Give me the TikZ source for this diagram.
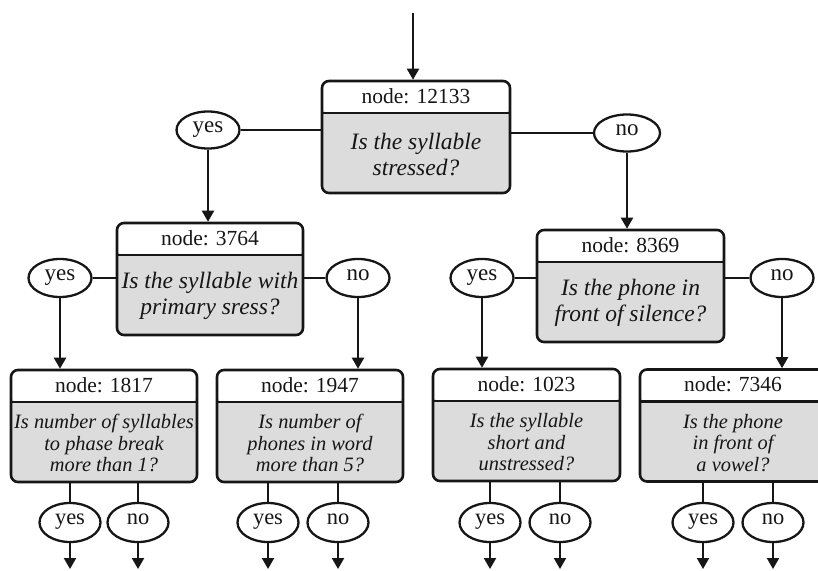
\documentclass[tikz,border=0pt]{standalone}
\usepackage{fontspec}
\setmainfont{Liberation Serif}
\usetikzlibrary{arrows.meta,shapes.geometric}
\definecolor{boxgray}{RGB}{220,220,220}
\definecolor{ink}{RGB}{22,22,22}
\begin{document}
\begin{tikzpicture}[x=1pt,y=1pt,
  qbox/.style={draw=ink, line width=2.6pt, rounded corners=7pt, fill=boxgray,
    inner sep=0pt, minimum height=112pt,
    path picture={
      \fill[white] ([yshift=2pt]path picture bounding box.north west) rectangle ([yshift=-32pt]path picture bounding box.north east);
      \draw[ink, line width=2.5pt] ([yshift=-32pt]path picture bounding box.north west) -- ([yshift=-32pt]path picture bounding box.north east);
    }},
  hdr/.style={font=\fontsize{21.5}{24}\selectfont, text=ink, inner sep=0pt},
  qbig/.style={font=\itshape\fontsize{23.5}{26}\selectfont, align=center, text=ink, inner sep=0pt},
  qsmall/.style={font=\itshape\fontsize{20.4}{21.5}\selectfont, align=center, text=ink, inner sep=0pt},
  ans/.style={ellipse, draw=ink, line width=2.3pt, fill=white, inner sep=0pt,
    minimum width=63pt, minimum height=37pt, font=\fontsize{23}{24}\selectfont,
    text=ink, text height=1ex, text depth=0pt},
  ansl/.style={ans, minimum width=61pt, minimum height=39pt, font=\fontsize{22.5}{24}\selectfont},
  con/.style={draw=ink, line width=2.1pt},
  arr/.style={con, -{Triangle[width=12pt,length=11pt]}},
]
\useasboundingbox (0,0) rectangle (818,-570);
\clip (0,0) rectangle (818,-570);

% boxes
\node[qbox, minimum width=188pt] (b1) at (416,-137) {};
\node[qbox, minimum width=186pt] (b2) at (210,-279) {};
\node[qbox, minimum width=187pt] (b3) at (630.5,-286) {};
\node[qbox, minimum width=186pt] (b4) at (104,-426) {};
\node[qbox, minimum width=186pt] (b5) at (310,-426) {};
\node[qbox, minimum width=187pt] (b6) at (526.5,-425) {};
\node[qbox, minimum width=186pt] (b7) at (733,-425.5) {};

% headers
\node[hdr] (h1) at ([yshift=-16pt]b1.north) {node: 12133};
\node[hdr] (h2) at ([yshift=-16pt]b2.north) {node: 3764};
\node[hdr] (h3) at ([yshift=-16pt]b3.north) {node: 8369};
\node[hdr] (h4) at ([yshift=-16pt]b4.north) {node: 1817};
\node[hdr] (h5) at ([yshift=-16pt]b5.north) {node: 1947};
\node[hdr] (h6) at ([yshift=-16pt]b6.north) {node: 1023};
\node[hdr] (h7) at ([yshift=-16pt]b7.north) {node: 7346};

% questions
\node[qbig] (q1) at ([yshift=40pt]b1.south) {Is the syllable\\stressed?};
\node[qbig] (q2) at ([yshift=40pt]b2.south) {Is the syllable with\\primary sress?};
\node[qbig] (q3) at ([yshift=40pt]b3.south) {Is the phone in\\front of silence?};
\node[qsmall] (q4) at ([yshift=40pt]b4.south) {Is number of syllables\\to phase break\\more than 1?};
\node[qsmall] (q5) at ([yshift=40pt]b5.south) {Is number of\\phones in word\\more than 5?};
\node[qsmall] (q6) at ([yshift=40pt]b6.south) {Is the syllable\\short and\\unstressed?};
\node[qsmall] (q7) at ([yshift=40pt]b7.south) {Is the phone\\in front of\\a vowel?};

% answer ellipses
\node[ans] (y1) at (208,-130) {yes};
\node[ans, minimum width=66pt] (n1) at (627,-133) {no};
\node[ans, minimum height=38pt] (y2) at (60,-278) {yes};
\node[ans, minimum height=38pt] (n2) at (358,-278) {no};
\node[ans, minimum height=38pt] (y3) at (482,-278) {yes};
\node[ans, minimum height=38pt] (n3) at (782,-278) {no};

\node[ansl] (y4) at (70,-522.5) {yes};
\node[ansl] (n4) at (138,-522.5) {no};
\node[ansl] (y5) at (268,-522.5) {yes};
\node[ansl] (n5) at (338,-522.5) {no};
\node[ansl] (y6) at (490,-522.5) {yes};
\node[ansl] (n6) at (560,-522.5) {no};
\node[ansl] (y7) at (703,-522.5) {yes};
\node[ansl] (n7) at (773,-522.5) {no};

\coordinate (start) at (413,-13);
\coordinate (ebot) at (0,-569);

% connectors
\draw[arr] (start) -- (start |- b1.north);
\draw[con] (y1.east) -- (y1.east -| b1.west);
\draw[con] (n1.west -| b1.east) -- (n1.west);
\draw[arr] (y1.south) -- (y1.south |- b2.north);
\draw[arr] (n1.south) -- (n1.south |- b3.north);

\draw[con] (y2.east) -- (y2.east -| b2.west);
\draw[con] (n2.west -| b2.east) -- (n2.west);
\draw[arr] (y2.south) -- (y2.south |- b4.north);
\draw[arr] (n2.south) -- (n2.south |- b5.north);

\draw[con] (y3.east) -- (y3.east -| b3.west);
\draw[con] (n3.west -| b3.east) -- (n3.west);
\draw[arr] (y3.south) -- (y3.south |- b6.north);
\draw[arr] (n3.south) -- (n3.south |- b7.north);

\foreach \a/\b in {y4/b4,n4/b4,y5/b5,n5/b5,y6/b6,n6/b6,y7/b7,n7/b7}{
  \draw[con] (\a.north |- \b.south) -- (\a.north);
  \draw[arr] (\a.south) -- (\a.south |- ebot);
}
\end{tikzpicture}
\end{document}
